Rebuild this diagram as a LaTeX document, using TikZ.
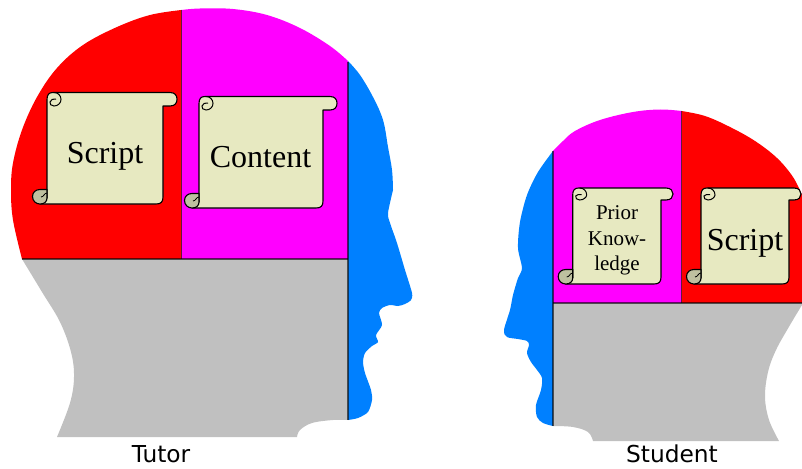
\documentclass[tikz,border=0pt]{standalone}
\usepackage{fontspec}
\setmainfont{Liberation Serif}
\newfontfamily\capfont{DejaVu Sans}
\definecolor{hred}{HTML}{FF0000}
\definecolor{hmag}{HTML}{FF00FF}
\definecolor{hblue}{HTML}{0080FF}
\definecolor{hgray}{HTML}{C0C0C0}
\definecolor{paper}{HTML}{E7E9C1}
\definecolor{curl}{HTML}{BEC0A0}
\tikzset{
  sep/.style={draw=black,draw opacity=.6,line width=1.2pt},
  scrollline/.style={draw=black,line width=1.1pt,line join=round},
  big/.style={font=\fontsize{32}{36}\selectfont,inner sep=0pt},
  small/.style={font=\fontsize{21}{25.5}\selectfont,inner sep=0pt,align=center},
  caption/.style={font=\capfont\fontsize{23.3}{26}\selectfont,inner sep=0pt},
}
% #1 left, #2 top, #3 bar right, #4 bar bottom, #5 body right, #6 bottom
\newcommand\myscroll[6]{%
  \path[scrollline,fill=paper]
    (#1,#2+7) .. controls (#1,#2+2) and (#1+2,#2) .. (#1+6,#2)
    -- (#3-7,#2) .. controls (#3-2,#2) and (#3,#2+3) .. (#3,{(#2+#4)/2})
    .. controls (#3,#4-3) and (#3-2,#4) .. (#3-7,#4)
    -- (#5,#4) -- (#5,#6-7) .. controls (#5,#6-2) and (#5-2,#6) .. (#5-7,#6)
    -- (#1-7,#6) -- (#1,#6-6) -- cycle;
  \path[scrollline,fill=curl]
    (#1-7,#6) .. controls (#1-11,#6) and (#1-14.5,#6-3) .. (#1-14.5,#6-7.5)
    .. controls (#1-14.5,#6-12) and (#1-11,#6-14.5) .. (#1-7,#6-14.5)
    -- (#1,#6-14.5) -- (#1,#6-6) .. controls (#1,#6-2) and (#1-3,#6) .. (#1-7,#6) -- cycle;
  \path[draw=black,line width=.8pt]
    (#1,#6-11) .. controls (#1-3,#6-11) and (#1-3,#6-7) .. (#1-6,#6-7);
  \path[draw=black,line width=1pt]
    (#1+7,#2) .. controls (#1+11,#2) and (#1+14,#2+3) .. (#1+14,#2+7)
    .. controls (#1+14,#4-3) and (#1+11,#4) .. (#1+7,#4)
    .. controls (#1+4,#4) and (#1+2.5,#4-2) .. (#1+3,#4-4)
    .. controls (#1+4,#2+6.5) and (#1+6,#2+6.5) .. (#1+9,#2+6.5);
}
\begin{document}
\begin{tikzpicture}[x=1pt,y=-1pt]
\useasboundingbox (0,0) rectangle (802,468);
% ---- Tutor head
\fill[hred] (181.5,259) -- (181.5,10) -- plot[smooth,tension=.6] coordinates {(181.5,10) (150,15) (117,27) (83,45) (57,68) (37,97) (22,130) (13,163) (11,190) (13,220) (22,259)} -- cycle;
\fill[hmag] (181.5,259) -- (181.5,10) -- plot[smooth,tension=.6] coordinates {(181.5,10) (200,8.5) (233,9) (267,15) (300,28) (330,46) (348,61)} -- (348,259) -- cycle;
\fill[hblue] (348,61) -- plot[smooth,tension=.6] coordinates {(348,61) (360,75) (373,97) (383,120) (388,147) (392,170) (393,190)} -- plot[smooth,tension=.45] coordinates {(393,190) (388,213) (390,223) (396,240) (400,253) (405,270) (412,293) (411,300) (405,304) (398,306) (390,305) (382,308) (379,313) (382,325) (376,335) (378,342) (372,346) (365,353) (363,362) (365,373) (371,390) (372,400) (368,412) (358,418) (348,420)} -- cycle;
\fill[hgray] (22,259) -- (348,259) -- (348,420) -- plot[smooth,tension=.6] coordinates {(348,420) (333,420) (312,423) (300,430) (297,437)} -- (57,437) -- plot[smooth,tension=.6] coordinates {(57,437) (70,403) (74,377) (71,352) (60,322) (42,292) (22,259)} -- cycle;
\draw[sep] (181.5,10) -- (181.5,259);
\draw[sep] (22,259) -- (348,259);
\draw[sep] (348,62) -- (348,420);
% ---- Student head
\fill[hmag] (553,303) -- (553,151) -- plot[smooth,tension=.6] coordinates {(553,151) (563,141) (575,131) (600,120) (633,112) (660,109.5) (681.5,111)} -- (681.5,303) -- cycle;
\fill[hred] (681.5,303) -- (681.5,111) -- plot[smooth,tension=.6] coordinates {(681.5,111) (705,116) (730,127) (755,141) (777,158) (793,177) (802,195)} -- (802,303) -- cycle;
\fill[hblue] (553,151) -- plot[smooth,tension=.5] coordinates {(553,151) (538,172) (527,195) (520,222) (518,248) (522,268) (518,278) (513,295) (510,310) (504,330) (507,337) (518,339) (527,341) (529,345) (527,353) (531,362) (537,370) (542,378) (541,390) (536,405) (537,417) (543,423) (553,426)} -- cycle;
\fill[hgray] (553,303) -- (802,303) -- plot[smooth,tension=.6] coordinates {(802,305) (790,325) (776,350) (768,372) (765,397) (769,420) (779,441)} -- (593,441) -- plot[smooth,tension=.6] coordinates {(593,441) (588,432) (573,427) (553,426)} -- cycle;
\draw[sep] (681.5,111) -- (681.5,303);
\draw[sep] (553,303) -- (802,303);
\draw[sep] (553,151) -- (553,426);
% ---- Scrolls
\myscroll{47}{92.5}{177}{106}{163}{204}
\myscroll{199}{96.5}{337}{110}{323}{208}
\myscroll{572.7}{188}{673}{200}{661}{284}
\myscroll{701}{188}{801}{200}{789}{284}
% ---- Labels
\node[big,anchor=base] (script1) at (105,163.5) {Script};
\node[big,anchor=base] (content) at (260.5,167) {Content};
\node[small] (prior) at (617,240.5) {Prior\\Know-\\ledge};
\node[big,anchor=base] (script2) at (745,250) {Script};
\node[caption,anchor=base] (tutor) at (161,462) {Tutor};
\node[caption,anchor=base] (student) at (672,462.5) {Student};
\end{tikzpicture}
\end{document}
